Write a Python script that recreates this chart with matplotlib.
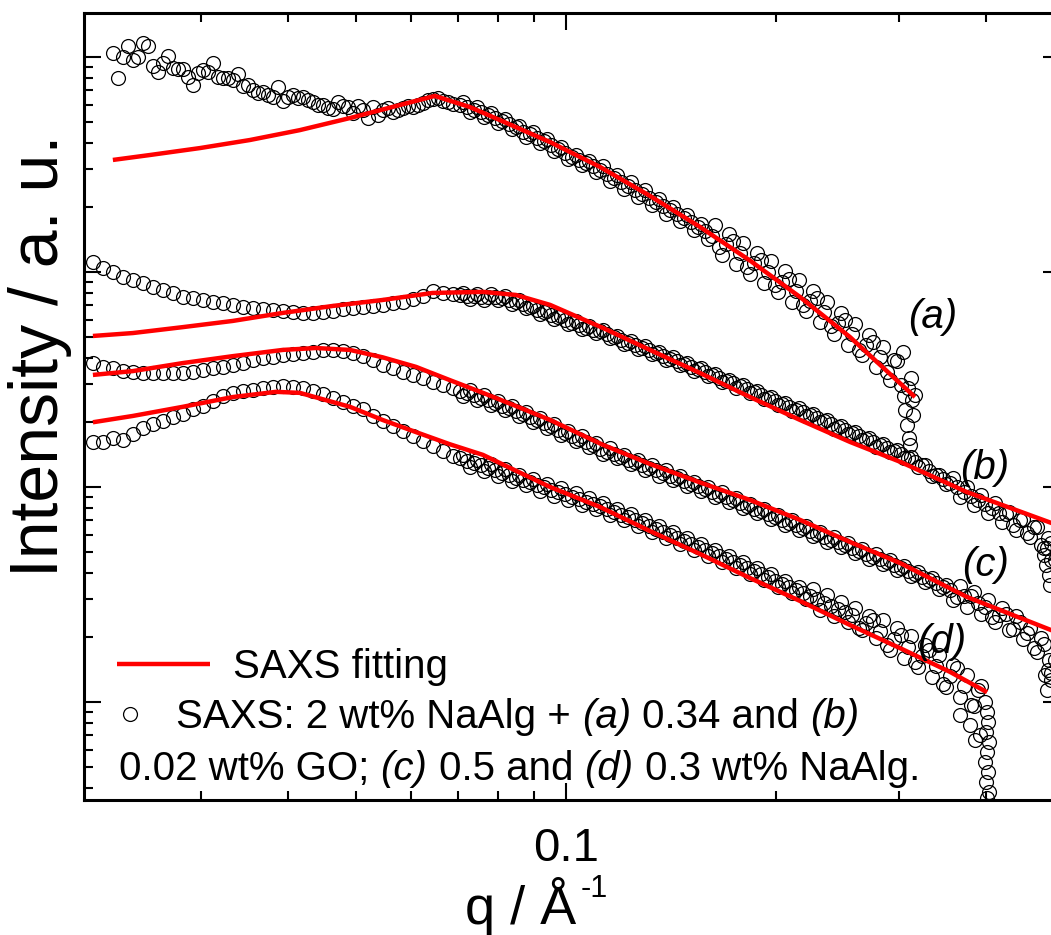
import matplotlib
matplotlib.use("Agg")
import matplotlib.pyplot as plt
from matplotlib.ticker import NullFormatter
from matplotlib.offsetbox import TextArea, HPacker, AnchoredOffsetbox

plt.rcParams.update({
    "font.family": "Liberation Sans",
    "mathtext.fontset": "custom",
    "mathtext.rm": "Liberation Sans",
    "mathtext.it": "Liberation Sans:italic",
})

# q grid shared by the measured curves (1/A)
q = [0.02101, 0.02171, 0.02244, 0.02319, 0.02397, 0.02477, 0.02560, 0.02646, 0.02735, 0.02826,
     0.02921, 0.03019, 0.03120, 0.03224, 0.03332, 0.03444, 0.03559, 0.03678, 0.03802, 0.03929,
     0.04061, 0.04197, 0.04337, 0.04483, 0.04633, 0.04788, 0.04948, 0.05114, 0.05285, 0.05462,
     0.05645, 0.05834, 0.06030, 0.06232, 0.06440, 0.06656, 0.06879,
     0.07050, 0.07215, 0.07383, 0.07556, 0.07732, 0.07913, 0.08098, 0.08287, 0.08480, 0.08678,
     0.08881, 0.09088, 0.09300, 0.09517, 0.09739, 0.09967, 0.1020, 0.1044, 0.1068, 0.1093,
     0.1118, 0.1144, 0.1171, 0.1198, 0.1226, 0.1255, 0.1284, 0.1314, 0.1345, 0.1376,
     0.1408, 0.1441, 0.1475, 0.1509, 0.1544, 0.1580, 0.1617, 0.1655, 0.1694, 0.1733,
     0.1774, 0.1815, 0.1857, 0.1901, 0.1945, 0.1991, 0.2037, 0.2085, 0.2133, 0.2183,
     0.2234, 0.2286, 0.2340, 0.2394, 0.2450, 0.2507, 0.2566, 0.2626, 0.2687, 0.2750,
     0.2814, 0.2880, 0.2947, 0.3016, 0.3086, 0.3158, 0.3232, 0.3307, 0.3385, 0.3464,
     0.3545, 0.3627, 0.3712, 0.3799, 0.3887, 0.3978, 0.4071, 0.4166, 0.4263, 0.4363,
     0.4465, 0.4569, 0.4676, 0.4785, 0.4897, 0.5011]

# second, in-between q set for the dense high-q part of the curves
q_mid = [0.07132, 0.07299, 0.07469, 0.07644, 0.07822, 0.08005, 0.08192, 0.08383, 0.08578, 0.08779,
         0.08984, 0.09193, 0.09408, 0.09627, 0.09852, 0.1008, 0.1032, 0.1056, 0.1080, 0.1106,
         0.1131, 0.1157, 0.1185, 0.1212, 0.1240, 0.1270, 0.1299, 0.1329, 0.1361, 0.1392,
         0.1424, 0.1458, 0.1492, 0.1527, 0.1562, 0.1598, 0.1636, 0.1674, 0.1714, 0.1753,
         0.1795, 0.1836, 0.1879, 0.1923, 0.1968, 0.2014, 0.2061, 0.2109, 0.2158, 0.2208,
         0.2260, 0.2313, 0.2367, 0.2422, 0.2478, 0.2536, 0.2596, 0.2656, 0.2718, 0.2782,
         0.2847, 0.2913, 0.2981, 0.3051, 0.3122, 0.3195, 0.3269, 0.3345, 0.3424, 0.3504,
         0.3586, 0.3669, 0.3755, 0.3843, 0.3932, 0.4024, 0.4118, 0.4214, 0.4312, 0.4414,
         0.4517, 0.4622, 0.4730, 0.4841, 0.4954]

# (a) 2 wt% NaAlg + 0.34 wt% GO  -> q[2:103]
I_a = [1044, 1000, 968, 1162, 908, 938, 889, 879, 741, 870,
       938, 799, 782, 733, 702, 687, 651, 624, 666, 651,
       617, 598, 573, 592, 549, 567, 585, 567, 555, 579,
       585, 611, 638, 624, 604,
       598, 585, 567, 555, 537, 520, 504, 488, 472, 448,
       438, 420, 407, 390, 373, 358, 343, 332, 322, 311,
       298, 286, 274, 262, 251, 241, 231, 221, 212, 203,
       194, 186, 178, 171, 162, 155, 147, 130, 135, 139,
       123, 106, 110, 114, 99.9, 87.0, 89.9, 92.8, 81.6, 70.2,
       73.3, 75.7, 65.2, 56.1, 58.0, 59.8, 51.4, 43.4, 45.8, 47.3,
       40.2, 34.3, 39.0, 29.8, 28.9, 26.8]
q_a2 = [0.02282, 0.02358, 0.02437, 0.02519, 0.02603, 0.02690, 0.02780, 0.02874, 0.02970, 0.03069,
        0.03172, 0.03279, 0.03388, 0.03502, 0.03619, 0.03740, 0.03866, 0.03995, 0.04129, 0.04267,
        0.04410, 0.04558, 0.04710, 0.04868, 0.05031, 0.05200, 0.05374, 0.05554, 0.05740, 0.05932,
        0.06131, 0.06336, 0.06548, 0.06768]
I_a2 = [799, 1125, 1000, 1125, 852, 1011, 879, 808, 843, 852,
        808, 799, 834, 741, 680, 666, 725, 651, 645, 631,
        598, 579, 617, 585, 592, 520, 537, 579, 567, 592,
        598, 631, 645, 617]
I_a_mid = [615, 554, 583, 525, 549, 492, 516, 462, 478, 426,
           446, 397, 414, 366, 380, 337, 350, 314, 329, 292,
           310, 264, 284, 242, 261, 223, 240, 204, 219, 187,
           201, 172, 184, 157, 167, 142, 166, 120, 151, 109,
           137, 98.3, 123, 88.7, 112, 80.3, 101, 72.5, 91.4, 65.5,
           81.7, 58.3, 72.6, 51.7, 64.5, 45.9, 57.3, 40.9, 50.9, 36.1,
           44.7, 31.6, 38.5, 26.5, 32.0]
q_a_tail = [0.3060, 0.3080, 0.3101, 0.3111, 0.3132, 0.3142, 0.3040]
I_a_tail = [22.8, 19.4, 16.9, 15.7, 25.4, 21.6, 42.5]

# (b) 2 wt% NaAlg + 0.02 wt% GO
I_b = [111.3, 104.4, 100.0, 94.7, 91.8, 88.9, 85.2, 82.5, 79.9, 76.5,
       75.7, 74.1, 72.5, 71.7, 70.2, 68.7, 68.0, 67.3, 66.6, 65.9,
       65.2, 64.5, 64.5, 65.2, 65.9, 67.3, 68.0, 68.7, 69.5, 70.2,
       71.7, 72.5, 74.9, 77.4, 81.6, 79.9, 79.1,
       78.2, 77.4, 77.4, 76.5, 76.5, 76.5, 75.7, 74.1, 72.5, 70.9,
       68.7, 66.6, 65.2, 63.1, 61.8, 59.8, 58.0, 56.7, 54.9, 53.7,
       53.1, 51.4, 49.8, 48.3, 46.8, 45.8, 44.3, 43.4, 42.0, 40.7,
       39.4, 38.5, 37.3, 36.1, 35.4, 34.3, 33.2, 32.1, 31.1, 30.4,
       29.5, 28.6, 27.7, 26.8, 26.0, 25.1, 24.4, 23.6, 22.8, 22.3,
       21.6, 20.9, 20.3, 19.6, 19.0, 18.4, 17.8, 17.3, 16.7, 16.2,
       15.7, 15.2, 14.7, 14.3, 13.7, 13.1, 12.6, 11.9, 11.4, 10.9,
       10.4, 9.97, 9.47, 9.08, 8.70, 8.34, 7.99, 7.57, 7.49, 6.66,
       7.02, 6.12, 6.52, 5.37, 5.80, 4.58]
I_b_mid = [80.1, 75.1, 79.3, 74.3, 78.8, 73.9, 77.1, 71.2, 73.9, 67.8,
           69.6, 64.0, 66.0, 60.6, 62.6, 57.2, 59.0, 54.2, 55.9, 51.8,
           53.8, 49.1, 50.5, 46.1, 47.7, 43.7, 45.1, 41.5, 42.5, 38.8,
           40.1, 36.8, 37.8, 34.7, 35.8, 32.7, 33.6, 30.7, 31.6, 29.0,
           29.9, 27.3, 28.0, 25.6, 26.3, 24.0, 24.7, 22.5, 23.2, 21.3,
           21.8, 20.0, 20.5, 18.7, 19.3, 17.6, 18.0, 16.5, 16.9, 15.4,
           15.9, 14.5, 14.9, 13.6, 13.8, 12.4, 12.6, 11.3, 11.4, 10.3,
           11.0, 9.00, 10.0, 8.23, 9.20, 7.56, 8.40, 6.86, 7.67, 6.33,
           7.12, 5.84, 6.50, 5.19, 5.48]
q_b_tail = [0.4832, 0.4864, 0.4880, 0.4913, 0.4929, 0.4946]
I_b_tail = [4.83, 4.34, 5.20, 3.90, 3.50, 4.58]

# (c) 0.5 wt% NaAlg
I_c = [37.7, 36.1, 35.7, 34.6, 34.3, 33.9, 33.9, 33.9, 33.9, 33.9,
       34.3, 35.0, 35.7, 36.1, 36.9, 37.7, 39.0, 39.8, 40.2, 41.1,
       41.6, 42.0, 42.5, 43.4, 43.4, 42.9, 42.0, 40.7, 39.0, 36.9,
       35.7, 34.3, 33.2, 32.1, 30.8, 29.8, 28.9,
       28.0, 27.4, 26.8, 26.0, 25.4, 24.6, 23.8, 23.3, 22.6, 21.9,
       21.1, 20.5, 19.8, 19.2, 18.4, 17.8, 17.3, 16.7, 16.2, 15.7,
       15.0, 14.6, 14.3, 13.8, 13.4, 13.1, 12.7, 12.3, 12.0, 11.6,
       11.3, 11.0, 10.7, 10.3, 10.1, 9.78, 9.47, 9.18, 8.98, 8.70,
       8.43, 8.16, 7.91, 7.74, 7.49, 7.26, 7.02, 6.81, 6.66, 6.45,
       6.24, 6.05, 5.86, 5.67, 5.55, 5.37, 5.20, 5.04, 4.88, 4.73,
       4.63, 4.48, 4.34, 4.20, 4.07, 3.94, 3.82, 3.69, 3.57, 3.42,
       3.32, 3.08, 3.11, 3.11, 2.89, 2.77, 2.49, 2.54, 2.57, 2.19,
       2.36, 2.10, 1.79, 1.98, 1.41, 1.57]
I_c_mid = [26.6, 28.2, 25.4, 26.7, 24.0, 25.2, 22.7, 23.9, 21.4, 22.4,
           20.0, 21.0, 18.8, 19.6, 17.4, 18.3, 16.3, 17.2, 15.4, 16.0,
           14.2, 15.1, 13.6, 14.1, 12.8, 13.4, 12.0, 12.7, 11.3, 12.0,
           10.8, 11.3, 10.1, 10.6, 9.56, 10.0, 8.97, 9.44, 8.50, 8.91,
           7.98, 8.36, 7.53, 7.92, 7.10, 7.43, 6.65, 7.01, 6.31, 6.60,
           5.91, 6.20, 5.55, 5.83, 5.25, 5.50, 4.92, 5.16, 4.62, 4.87,
           4.38, 4.59, 4.11, 4.31, 3.86, 4.04, 3.62, 3.78, 3.37, 3.50,
           2.97, 3.48, 2.77, 3.23, 2.57, 2.98, 2.36, 2.74, 2.17, 2.50,
           1.96, 2.22, 1.70, 1.87, 1.37]
q_c_tail = [0.4848, 0.4880, 0.4913, 0.4946]
I_c_tail = [1.34, 1.14, 1.57, 1.27]

# (d) 0.3 wt% NaAlg  -> q[:113]
I_d = [16.2, 16.2, 16.9, 16.5, 17.7, 18.8, 19.6, 20.3, 21.1, 21.9,
       23.1, 23.8, 25.1, 26.5, 27.4, 28.0, 28.3, 28.9, 29.2, 29.5,
       29.2, 28.9, 28.0, 27.1, 26.0, 24.9, 23.8, 23.1, 21.4, 20.3,
       19.2, 18.2, 17.3, 16.4, 15.5, 14.7, 13.9,
       13.6, 13.2, 12.9, 12.7, 12.3, 12.0, 11.6, 11.4, 11.0, 10.8,
       10.6, 10.2, 9.97, 9.68, 9.47, 9.28, 8.98, 8.79, 8.52, 8.34,
       8.16, 7.91, 7.66, 7.41, 7.26, 7.02, 6.81, 6.59, 6.38, 6.18,
       5.98, 5.79, 5.61, 5.43, 5.26, 5.09, 4.93, 4.78, 4.63, 4.48,
       4.34, 4.20, 4.07, 3.94, 3.82, 3.65, 3.54, 3.42, 3.32, 3.21,
       3.11, 3.02, 2.89, 2.80, 2.71, 2.62, 2.54, 2.21, 2.33, 2.41,
       2.14, 1.84, 1.96, 2.05, 1.80, 1.54, 1.64, 1.75, 1.47, 1.21,
       1.32, 1.44, 1.19, 0.968, 1.14, 1.00]
I_d_mid = [14.1, 12.4, 13.4, 11.9, 12.8, 11.2, 12.1, 10.7, 11.4, 10.2,
           10.9, 9.59, 10.3, 9.12, 9.85, 8.70, 9.33, 8.24, 8.85, 7.86,
           8.44, 7.42, 7.91, 6.99, 7.50, 6.59, 7.04, 6.18, 6.59, 5.79,
           6.18, 5.43, 5.80, 5.09, 5.43, 4.77, 5.10, 4.48, 4.78, 4.20,
           4.48, 3.94, 4.21, 3.70, 3.92, 3.43, 3.65, 3.21, 3.43, 3.01,
           3.37, 2.69, 3.13, 2.51, 2.93, 2.35, 2.74, 2.17, 2.51, 1.99,
           2.41, 1.75, 2.21, 1.60, 2.02, 1.46, 1.84, 1.31, 1.65, 1.18,
           1.48, 1.06, 1.33, 0.956, 1.19]
q_d_tail = [0.4004, 0.4017, 0.3991, 0.4031, 0.4004, 0.3978, 0.4017, 0.3991, 0.4031, 0.4004,
            0.3663, 0.3787, 0.3849, 0.3913]
I_d_tail = [0.899, 0.807, 0.725, 0.652, 0.585, 0.526, 0.473, 0.425, 0.382, 0.358,
            0.870, 0.782, 0.666, 0.702]

# fitted curves
fit_a_q = [0.02244, 0.02535, 0.0299, 0.03526, 0.04158, 0.04904, 0.05783, 0.0649, 0.07286,
           0.0804, 0.0949, 0.1119, 0.1319, 0.1556, 0.1835, 0.2164, 0.2552, 0.3162]
fit_a_I = [332, 350, 377, 411, 457, 520, 598, 659, 585, 509, 402, 308, 226, 162, 113, 76.5, 49.8, 26.2]
fit_b_q = [0.02101, 0.02397, 0.02826, 0.03332, 0.03929, 0.04633, 0.05462, 0.0644, 0.07606, 0.08479,
           0.0949, 0.1130, 0.1319, 0.1556, 0.1835, 0.2164, 0.2552, 0.301, 0.3753, 0.4953, 0.510]
fit_b_I = [50.4, 52.0, 55.4, 59.2, 64.5, 69.5, 74.1, 79.9, 80.8, 78.2,
           70.3, 54.9, 43.4, 33.9, 26.2, 20.5, 16.2, 13.1, 9.47, 6.81, 6.6]
fit_c_q = [0.02101, 0.02397, 0.02826, 0.03332, 0.03929, 0.04384, 0.04904, 0.05462, 0.06098, 0.0682,
           0.07606, 0.08479, 0.0949, 0.1130, 0.1319, 0.1556, 0.1835, 0.2164, 0.2552, 0.301,
           0.3753, 0.4953, 0.510]
fit_c_I = [33.2, 34.6, 37.7, 40.6, 43.4, 44.3, 43.4, 40.1, 36.2, 31.4,
           27.4, 23.8, 20.5, 15.7, 12.8, 10.5, 8.70, 7.03, 5.55, 4.43,
           3.08, 2.16, 2.09]
fit_d_q = [0.02101, 0.02397, 0.02826, 0.03332, 0.03842, 0.04158, 0.04904, 0.05462, 0.06098, 0.0682,
           0.07606, 0.08479, 0.0949, 0.1119, 0.1319, 0.1556, 0.1835, 0.2164, 0.2552, 0.301,
           0.3549, 0.401]
fit_d_I = [20.0, 21.4, 23.6, 26.2, 27.7, 27.4, 23.6, 20.5, 18.0, 15.8,
           14.1, 11.9, 10.0, 8.07, 6.24, 4.88, 3.77, 2.95, 2.28, 1.78,
           1.38, 1.11]

fig = plt.figure(figsize=(10.51, 9.35), dpi=100)
ax = fig.add_axes([0.0799, 0.1444, 0.9286, 0.8417])
ax.set_xscale("log")
ax.set_yscale("log")

pts = dict(ls="none", marker="o", mfc="none", mec="black", ms=10, mew=0.9, zorder=2)
ax.plot(q[2:2 + len(I_a)], I_a, **pts)
ax.plot(q_a2, I_a2, **pts)
ax.plot(q_mid[:len(I_a_mid)], I_a_mid, **pts)
ax.plot(q_a_tail, I_a_tail, **pts)
ax.plot(q[:len(I_b)], I_b, **pts)
ax.plot(q_mid[:len(I_b_mid)], I_b_mid, **pts)
ax.plot(q_b_tail, I_b_tail, **pts)
ax.plot(q[:len(I_c)], I_c, **pts)
ax.plot(q_mid[:len(I_c_mid)], I_c_mid, **pts)
ax.plot(q_c_tail, I_c_tail, **pts)
data_line, = ax.plot(q[:len(I_d)], I_d, **pts)
ax.plot(q_mid[:len(I_d_mid)], I_d_mid, **pts)
ax.plot(q_d_tail, I_d_tail, **pts)

fit = dict(color="red", lw=3.2, zorder=3, solid_capstyle="butt")
fit_line, = ax.plot(fit_a_q, fit_a_I, **fit)
ax.plot(fit_b_q, fit_b_I, **fit)
ax.plot(fit_c_q, fit_c_I, **fit)
ax.plot(fit_d_q, fit_d_I, **fit)

ax.set_xlim(0.0204, 0.510)
ax.set_ylim(0.350, 1602)

for s in ax.spines.values():
    s.set_linewidth(2.2)
ax.tick_params(which="both", direction="in", top=True, right=True, width=1.5,
               labelleft=False, labelsize=34, pad=19.2)
ax.tick_params(which="major", length=12.5)
ax.tick_params(which="minor", length=6.5)
ax.set_xticks([0.1], ["0.1"])
ax.xaxis.set_minor_formatter(NullFormatter())
ax.yaxis.set_major_formatter(NullFormatter())
ax.yaxis.set_minor_formatter(NullFormatter())

# axis titles
fig.text(465 / 1051, 1 - 924 / 935, "q / Å", fontsize=39, ha="left", va="baseline")
fig.text(581 / 1051, 1 - 874 / 935, "-1", fontsize=22, ha="left", va="top")
fig.text(40 / 1051, 1 - 356 / 935, "Intensity / a. u.", rotation=90,
         fontsize=49, ha="center", va="center")

# legend
fs = 29
leg1 = ax.legend([fit_line], ["SAXS fitting"], loc="center left", bbox_to_anchor=(0.0338, 0.169),
                 frameon=False, fontsize=fs, handlelength=2.31, handletextpad=0.57,
                 borderpad=0, borderaxespad=0)
ax.add_artist(leg1)
ax.legend([data_line], [" "], loc="center left", bbox_to_anchor=(0.0307, 0.1055),
          frameon=False, fontsize=fs, handlelength=0.8, handletextpad=0.74, numpoints=1,
          borderpad=0, borderaxespad=0)


def rich_line(parts):
    areas = [TextArea(t, textprops=dict(fontsize=fs, fontstyle=st)) for t, st in parts]
    return HPacker(children=areas, align="baseline", pad=0, sep=0.278 * fs)


line2 = rich_line([("SAXS: 2 wt% NaAlg +", "normal"), ("(a)", "italic"),
                   ("0.34 and", "normal"), ("(b)", "italic")])
line3 = rich_line([("0.02 wt% GO;", "normal"), ("(c)", "italic"), ("0.5 and", "normal"),
                   ("(d)", "italic"), ("0.3 wt% NaAlg.", "normal")])
for child, anchor in [(line2, (0.0943, 0.1055)), (line3, (0.0359, 0.0394))]:
    ab = AnchoredOffsetbox(loc="center left", child=child, pad=0, borderpad=0, frameon=False,
                           bbox_to_anchor=anchor, bbox_transform=ax.transAxes)
    ax.add_artist(ab)

for lab, fx, fy in [("(a)", 0.8443, 0.6137), ("(b)", 0.8975, 0.4219),
                    ("(c)", 0.8996, 0.2986), ("(d)", 0.8535, 0.2008)]:
    ax.text(fx, fy, lab, transform=ax.transAxes, fontsize=fs, fontstyle="italic",
            ha="left", va="center")

fig.savefig("out.png", dpi=100)
